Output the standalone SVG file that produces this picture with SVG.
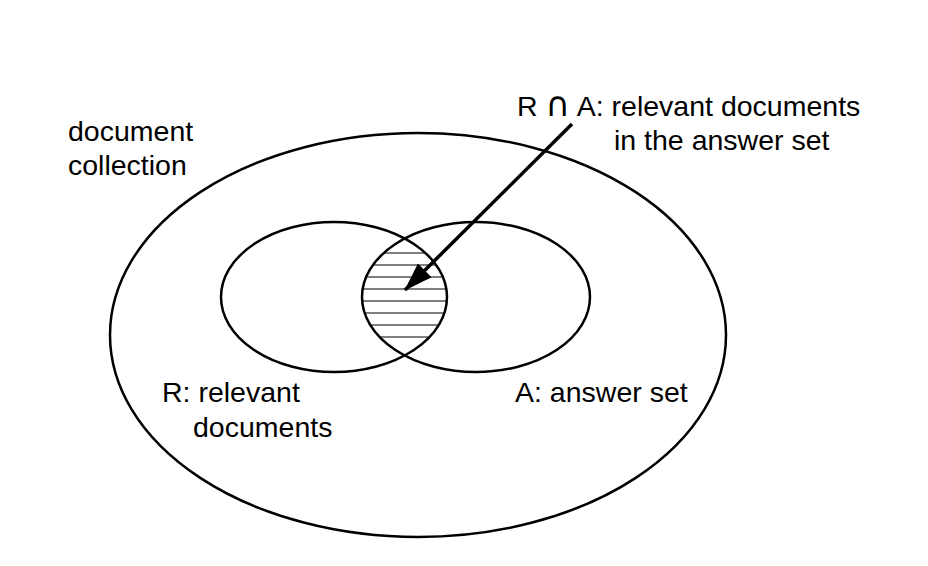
<svg xmlns="http://www.w3.org/2000/svg" width="928" height="566" viewBox="0 0 928 566">
<style>
.set{fill:none;stroke:#000;stroke-width:2.5}
.hatch{stroke:#000;stroke-width:1.2}
.lbl{font-family:"Liberation Sans",Arial,sans-serif;font-size:28.5px;fill:#000}
.sym{font-family:"DejaVu Sans",sans-serif;font-size:34px}
.conn{stroke:#000;stroke-width:3.5;fill:none}
</style>
<defs>
<marker id="ah" markerUnits="userSpaceOnUse" markerWidth="30" markerHeight="20" refX="26" refY="9" orient="auto" viewBox="0 0 28 18">
<path d="M0,0 L27,9 L0,18 Z" fill="#000"/>
</marker>
</defs>
<rect width="928" height="566" fill="#fff"/>
<g id="collection">
<ellipse class="set" cx="418" cy="335" rx="308" ry="202"/>
<text class="lbl" x="68" y="141">document</text>
<text class="lbl" x="68" y="175">collection</text>
</g>
<g id="intersection">
<line class="hatch" x1="383.7" y1="253" x2="425.5" y2="253"/>
<line class="hatch" x1="372.9" y1="265" x2="436.2" y2="265"/>
<line class="hatch" x1="366.1" y1="277" x2="442.9" y2="277"/>
<line class="hatch" x1="362.6" y1="289" x2="446.4" y2="289"/>
<line class="hatch" x1="362.2" y1="301" x2="446.8" y2="301"/>
<line class="hatch" x1="364.6" y1="313" x2="444.4" y2="313"/>
<line class="hatch" x1="370.2" y1="325" x2="438.8" y2="325"/>
<line class="hatch" x1="379.6" y1="337" x2="429.6" y2="337"/>
<text class="lbl" x="517" y="116">R <tspan class="sym">∩</tspan> A: relevant documents</text>
<text class="lbl" x="614" y="150">in the answer set</text>
</g>
<g id="relevant">
<ellipse class="set" cx="334" cy="297" rx="113" ry="75"/>
<text class="lbl" x="162" y="402">R: relevant</text>
<text class="lbl" x="193" y="437">documents</text>
</g>
<g id="answer">
<ellipse class="set" cx="476" cy="297" rx="114" ry="75"/>
<text class="lbl" x="515" y="402">A: answer set</text>
</g>
<g id="connectors">
<line class="conn" x1="572" y1="124" x2="405" y2="290" marker-end="url(#ah)"/>
</g>
</svg>
